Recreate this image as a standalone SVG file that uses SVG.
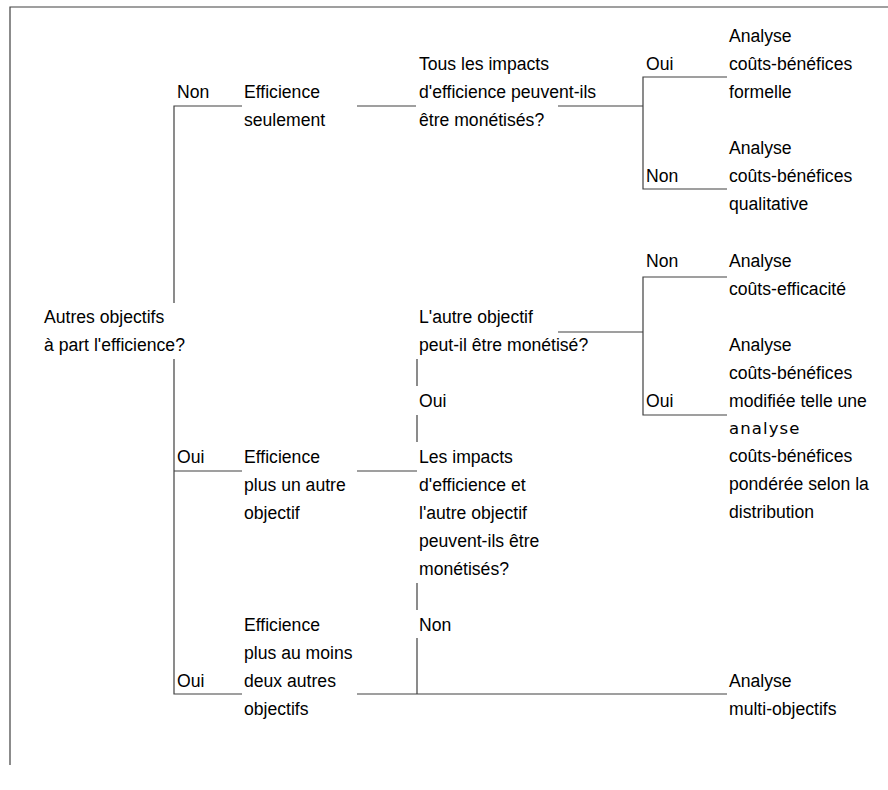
<svg xmlns="http://www.w3.org/2000/svg" width="888" height="790" viewBox="0 0 888 790">
<style>
text{font-family:"Liberation Sans",Arial,sans-serif;font-size:17.6px;fill:#000}
.alt{font-family:"DejaVu Sans",sans-serif;font-size:16.5px;letter-spacing:1.1px}
.ln{stroke:#404040;stroke-width:1.2;fill:none}
.frame{stroke:#404040;stroke-width:1.2;fill:none}
</style>
<rect width="888" height="790" fill="#fff"/>
<path class="frame" d="M10,765 V7 H888"/>
<g id="connectors">
<path class="ln" d="M242,106 H174 V303 M174,359 V694 H242 M174,471 H242"/>
<path class="ln" d="M357,106 H416"/>
<path class="ln" d="M558,106 H643 M727,77 H643 V189 H727"/>
<path class="ln" d="M558,332 H643 M727,277 H643 V415 H727"/>
<path class="ln" d="M357,471 H417"/>
<path class="ln" d="M417,359 V386 M417,415 V442 M417,583 V610 M417,638 V694"/>
<path class="ln" d="M357,694 H727"/>
</g>
<g id="q-root"><text x="44" y="323">Autres objectifs</text><text x="44" y="351">à part l'efficience?</text></g>
<g id="lbl-non-1"><text x="177" y="98">Non</text></g>
<g id="n-eff-seul"><text x="244" y="98">Efficience</text><text x="244" y="126">seulement</text></g>
<g id="q-monet-1"><text x="419" y="70">Tous les impacts</text><text x="419" y="98">d'efficience peuvent-ils</text><text x="419" y="126">être monétisés?</text></g>
<g id="lbl-oui-1"><text x="646" y="70">Oui</text></g>
<g id="r-acb-formelle"><text x="729" y="42">Analyse</text><text x="729" y="70">coûts-bénéfices</text><text x="729" y="98">formelle</text></g>
<g id="lbl-non-2"><text x="646" y="182">Non</text></g>
<g id="r-acb-qual"><text x="729" y="154">Analyse</text><text x="729" y="182">coûts-bénéfices</text><text x="729" y="210">qualitative</text></g>
<g id="lbl-non-3"><text x="646" y="267">Non</text></g>
<g id="r-ace"><text x="729" y="267">Analyse</text><text x="729" y="295">coûts-efficacité</text></g>
<g id="q-autre"><text x="419" y="323">L'autre objectif</text><text x="419" y="351">peut-il être monétisé?</text></g>
<g id="lbl-oui-2"><text x="419" y="407">Oui</text></g>
<g id="lbl-oui-3"><text x="646" y="407">Oui</text></g>
<g id="r-acb-mod"><text x="729" y="351">Analyse</text><text x="729" y="379">coûts-bénéfices</text><text x="729" y="407">modifiée telle une</text><text class="alt" x="729" y="434">analyse</text><text x="729" y="462">coûts-bénéfices</text><text x="729" y="490">pondérée selon la</text><text x="729" y="518">distribution</text></g>
<g id="lbl-oui-4"><text x="177" y="463">Oui</text></g>
<g id="n-eff-plus1"><text x="244" y="463">Efficience</text><text x="244" y="491">plus un autre</text><text x="244" y="519">objectif</text></g>
<g id="q-monet-2"><text x="419" y="463">Les impacts</text><text x="419" y="491">d'efficience et</text><text x="419" y="519">l'autre objectif</text><text x="419" y="547">peuvent-ils être</text><text x="419" y="575">monétisés?</text></g>
<g id="lbl-non-4"><text x="419" y="631">Non</text></g>
<g id="n-eff-plus2"><text x="244" y="631">Efficience</text><text x="244" y="659">plus au moins</text><text x="244" y="687">deux autres</text><text x="244" y="715">objectifs</text></g>
<g id="lbl-oui-5"><text x="177" y="687">Oui</text></g>
<g id="r-amo"><text x="729" y="687">Analyse</text><text x="729" y="715">multi-objectifs</text></g>
</svg>
